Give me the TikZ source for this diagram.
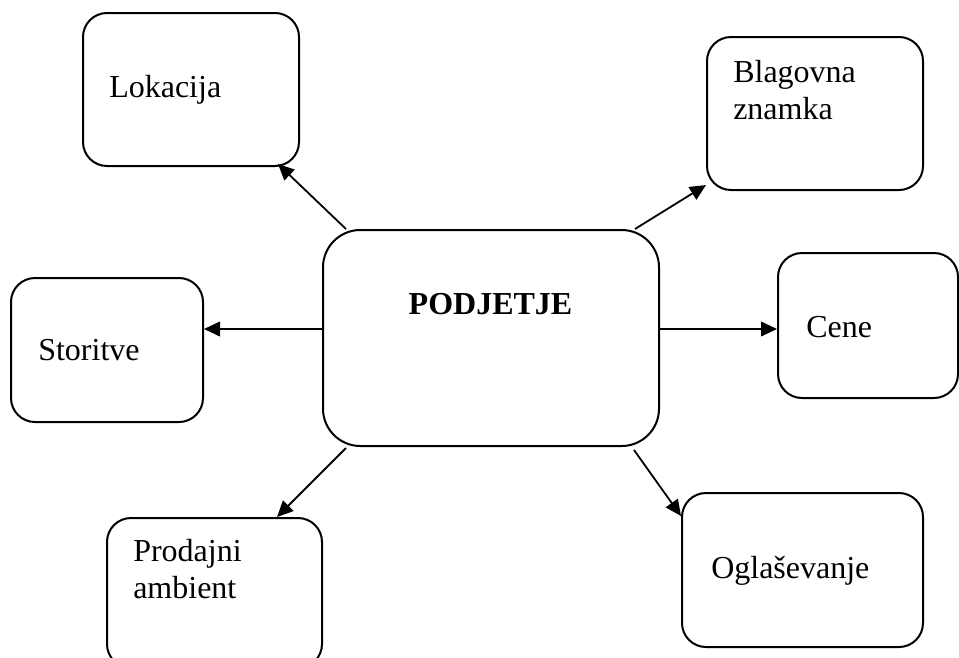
\documentclass[tikz,border=0pt]{standalone}
\usepackage{fontspec}
\setmainfont{Liberation Serif}
\usetikzlibrary{arrows.meta,calc}

\tikzset{
  box/.style={draw, line width=1.5pt, rounded corners=18pt, inner sep=0pt,
              minimum width=#1},
  box/.default=162pt,
  lbl/.style={anchor=base west, inner sep=0pt, font=\fontsize{24}{27.6}\selectfont,
              align=left},
  link/.style={line width=1.35pt, -{Triangle[length=12pt,width=11pt]}},
}

\begin{document}
\begin{tikzpicture}[x=0.75pt,y=-0.75pt]
  \useasboundingbox (0,0) rectangle (959,657);
  \clip (0,0) rectangle (959,657);

  % central box
  \node[box=252pt, minimum height=162pt, rounded corners=28pt] (pod) at (491,338) {};
  \node[anchor=base, inner sep=0pt, font=\fontsize{24}{27.6}\selectfont\bfseries]
       (podt) at (490.5,314) {PODJETJE};

  % surrounding boxes
  \node[box=162pt, minimum height=114.75pt] (lok)  at (191,89.5)  {};
  \node[box=162pt, minimum height=114.75pt] (blag) at (815,113.5) {};
  \node[box=144pt, minimum height=108pt]    (stor) at (107,350)   {};
  \node[box=135pt, minimum height=108.75pt] (cene) at (868,325.5) {};
  \node[box=161.25pt, minimum height=112.5pt] (prod) at (214.5,593) {};
  \node[box=180.75pt, minimum height=115.5pt] (ogl)  at (802.5,570) {};

  % box texts (two-line labels sit on the baseline of their last line)
  \node[lbl] (lokt)  at (109,97)  {Lokacija};
  \node[lbl] (blagt) at (733,119) {Blagovna\\znamka};
  \node[lbl] (stort) at (38,360)  {Storitve};
  \node[lbl] (cenet) at (806,337) {Cene};
  \node[lbl] (prodt) at (133,598) {Prodajni\\ambient};
  \node[lbl] (oglt)  at (711,578) {Oglaševanje};

  % connector end points
  \coordinate (s1) at ($(pod.north west)+(24,0)$);
  \coordinate (t1) at ($(lok.south east)+(-22,-3)$);
  \coordinate (s2) at ($(pod.north east)+(-25,0)$);
  \coordinate (t2) at ($(blag.south west)+(0,-6)$);
  \coordinate (s3) at ($(pod.west)+(0,-9)$);
  \coordinate (s4) at ($(pod.east)+(0,-9)$);
  \coordinate (s5) at ($(pod.south west)+(24,1)$);
  \coordinate (t5) at ($(prod.north east)+(-46,0)$);
  \coordinate (s6) at ($(pod.south east)+(-26,3)$);
  \coordinate (t6) at ($(ogl.north west)+(0,24)$);

  % connectors
  \draw[link] (s1) -- (t1);
  \draw[link] (s2) -- (t2);
  \draw[link] (s3) -- (s3 -| stor.east);
  \draw[link] (s4) -- (s4 -| cene.west);
  \draw[link] (s5) -- (t5);
  \draw[link] (s6) -- (t6);
\end{tikzpicture}
\end{document}
